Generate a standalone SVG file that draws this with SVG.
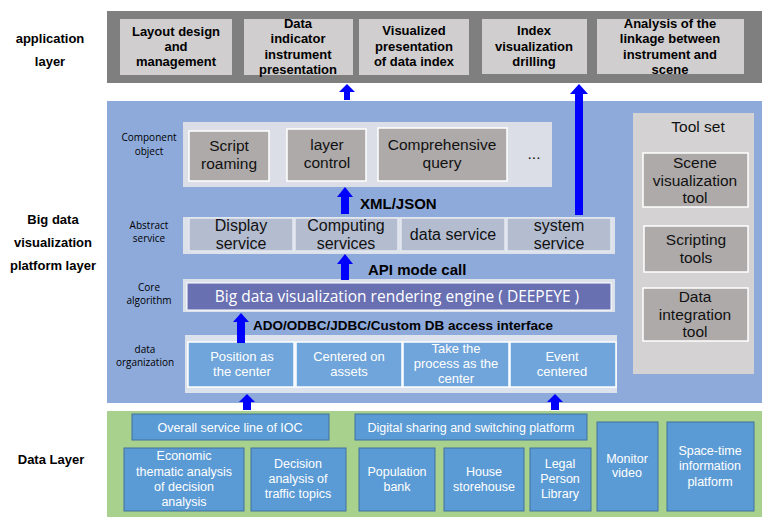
<svg xmlns="http://www.w3.org/2000/svg" width="773" height="525" viewBox="0 0 773 525">
<style>
.lbl{font-family:"Liberation Sans",Arial,sans-serif;font-weight:bold;font-size:13px;fill:#000;text-anchor:middle}
.top{font-family:"Liberation Sans",Arial,sans-serif;font-weight:bold;font-size:13px;fill:#000;text-anchor:middle}
.tbox{fill:#d0cece}
.sm{font-family:"Open Sans","Noto Sans",sans-serif;font-size:10px;fill:#000;text-anchor:middle}
.cb{fill:#aeaaaa;stroke:#fff;stroke-width:1.5}
.ct{font-family:"Liberation Sans",Arial,sans-serif;font-size:15.5px;fill:#111;text-anchor:middle}
.as{fill:#b4bdd0;stroke:#e4e8ef;stroke-width:1.5}
.at{font-family:"Liberation Sans",Arial,sans-serif;font-size:16px;fill:#111;text-anchor:middle}
.dc{fill:#6fa5da;stroke:#fff;stroke-width:1.5}
.dt{font-family:"Liberation Sans",Arial,sans-serif;font-size:13px;fill:#fff;text-anchor:middle}
.bl{font-family:"Liberation Sans",Arial,sans-serif;font-weight:bold;font-size:15px;fill:#000}
.gb{fill:#5b9bd5;stroke:#41719c;stroke-width:1}
.gt{font-family:"Liberation Sans",Arial,sans-serif;font-size:12.5px;fill:#fff;text-anchor:middle}
.tt{font-family:"Liberation Sans",Arial,sans-serif;font-size:15.5px;fill:#111;text-anchor:middle}
.arr{fill:#0000ff}
</style>

<!-- layer labels -->
<g id="layer-labels">
<text class="lbl" x="50" y="43">application</text>
<text class="lbl" x="50" y="66">layer</text>
<text class="lbl" x="53" y="224">Big data</text>
<text class="lbl" x="53" y="247">visualization</text>
<text class="lbl" x="53" y="270">platform layer</text>
<text class="lbl" x="51" y="464">Data Layer</text>
</g>

<!-- application layer -->
<g id="application-layer">
<rect x="107" y="11" width="655" height="72" fill="#7f7f7f"/>
</g>
<g id="app-layout">
<rect class="tbox" x="120" y="19" width="112" height="56"/>
<text class="top" x="176" y="36">Layout design</text>
<text class="top" x="176" y="51">and</text>
<text class="top" x="176" y="66">management</text>
</g>
<g id="app-data-indicator">
<rect class="tbox" x="244" y="19" width="109" height="56"/>
<text class="top" x="298" y="28">Data</text>
<text class="top" x="298" y="43">indicator</text>
<text class="top" x="298" y="59">instrument</text>
<text class="top" x="298" y="74">presentation</text>
</g>
<g id="app-visualized">
<rect class="tbox" x="359" y="19" width="110" height="56"/>
<text class="top" x="414" y="35">Visualized</text>
<text class="top" x="414" y="51">presentation</text>
<text class="top" x="414" y="66">of data index</text>
</g>
<g id="app-index">
<rect class="tbox" x="482" y="19" width="105" height="55"/>
<text class="top" x="534" y="35">Index</text>
<text class="top" x="534" y="51">visualization</text>
<text class="top" x="534" y="66">drilling</text>
</g>
<g id="app-analysis">
<rect class="tbox" x="597" y="19" width="147" height="55"/>
<text class="top" x="670" y="28">Analysis of the</text>
<text class="top" x="670" y="43">linkage between</text>
<text class="top" x="670" y="59">instrument and</text>
<text class="top" x="670" y="74">scene</text>
</g>

<!-- platform layer -->
<g id="platform-layer">
<rect x="107" y="101" width="655" height="302" fill="#8eaadb"/>
</g>

<g id="component-object">
<rect x="183" y="122" width="369" height="65" fill="#dbdee6"/>
<text class="sm" x="149" y="141">Component</text>
<text class="sm" x="149" y="155">object</text>
</g>
<g id="script-roaming">
<rect class="cb" x="189" y="131" width="80" height="50"/>
<text class="ct" x="229" y="151">Script</text>
<text class="ct" x="229" y="169">roaming</text>
</g>
<g id="layer-control">
<rect class="cb" x="287" y="129" width="79" height="52"/>
<text class="ct" x="327" y="150">layer</text>
<text class="ct" x="327" y="168">control</text>
</g>
<g id="comprehensive-query">
<rect class="cb" x="378" y="128" width="129" height="53"/>
<text class="ct" x="442" y="150">Comprehensive</text>
<text class="ct" x="442" y="168">query</text>
</g>
<g id="more">
<text class="ct" x="534" y="159">...</text>
</g>

<g id="abstract-service">
<rect x="183" y="217" width="432" height="37" fill="#dde2ea"/>
<text class="sm" x="149" y="229">Abstract</text>
<text class="sm" x="149" y="242">service</text>
</g>
<g id="display-service">
<rect class="as" x="189" y="218" width="104" height="33"/>
<text class="at" x="241" y="231">Display</text>
<text class="at" x="241" y="249">service</text>
</g>
<g id="computing-services">
<rect class="as" x="295" y="218" width="103" height="33"/>
<text class="at" x="346" y="231">Computing</text>
<text class="at" x="346" y="249">services</text>
</g>
<g id="data-service">
<rect class="as" x="401" y="218" width="104" height="33"/>
<text class="at" x="453" y="240">data service</text>
</g>
<g id="system-service">
<rect class="as" x="507" y="218" width="104" height="33"/>
<text class="at" x="559" y="231">system</text>
<text class="at" x="559" y="249">service</text>
</g>

<g id="core-algorithm">
<rect x="183" y="279" width="432" height="33" fill="#dde2ea"/>
<rect x="187" y="283" width="424" height="27" fill="#6870b2" stroke="#fff" stroke-width="1"/>
<text x="397" y="302" style="font-family:'Open Sans','Noto Sans',sans-serif;fill:#fff;font-size:15.5px;text-anchor:middle">Big data visualization rendering engine ( DEEPEYE )</text>
<text class="sm" x="149" y="291">Core</text>
<text class="sm" x="149" y="304">algorithm</text>
</g>

<g id="data-organization">
<rect x="185" y="335" width="432" height="58" fill="#dde3ec"/>
<text class="sm" x="145" y="353">data</text>
<text class="sm" x="145" y="366">organization</text>
</g>
<g id="position-center">
<rect class="dc" x="188" y="342" width="106" height="45"/>
<text class="dt" x="242" y="361">Position as</text>
<text class="dt" x="242" y="376">the center</text>
</g>
<g id="assets-center">
<rect class="dc" x="296" y="342" width="106" height="45"/>
<text class="dt" x="349" y="361">Centered on</text>
<text class="dt" x="349" y="376">assets</text>
</g>
<g id="process-center">
<rect class="dc" x="403" y="342" width="106" height="45"/>
<text class="dt" x="456" y="353">Take the</text>
<text class="dt" x="456" y="368">process as the</text>
<text class="dt" x="456" y="383">center</text>
</g>
<g id="event-center">
<rect class="dc" x="510" y="342" width="106" height="45"/>
<text class="dt" x="562" y="361">Event</text>
<text class="dt" x="562" y="376">centered</text>
</g>

<g id="tool-set">
<rect x="633" y="113" width="121" height="261" fill="#d4d2d2"/>
<text class="tt" x="698" y="132">Tool set</text>
</g>
<g id="scene-tool">
<rect class="cb" x="643" y="153" width="105" height="54"/>
<text class="tt" x="695" y="168">Scene</text>
<text class="tt" x="695" y="185.5">visualization</text>
<text class="tt" x="695" y="203">tool</text>
</g>
<g id="scripting-tools">
<rect class="cb" x="644" y="226" width="104" height="46"/>
<text class="tt" x="696" y="245">Scripting</text>
<text class="tt" x="696" y="262.5">tools</text>
</g>
<g id="data-integration-tool">
<rect class="cb" x="643" y="288" width="105" height="53"/>
<text class="tt" x="695" y="302">Data</text>
<text class="tt" x="695" y="319.5">integration</text>
<text class="tt" x="695" y="337">tool</text>
</g>

<!-- data layer -->
<g id="data-layer">
<rect x="107" y="411" width="655" height="106" fill="#a9d18e"/>
</g>
<g id="ioc">
<rect class="gb" x="132" y="414" width="197" height="26"/>
<text class="gt" x="230" y="432">Overall service line of IOC</text>
</g>
<g id="digital-sharing">
<rect class="gb" x="355" y="414" width="232" height="26"/>
<text class="gt" x="471" y="432">Digital sharing and switching platform</text>
</g>
<g id="economic">
<rect class="gb" x="124" y="448" width="120" height="63"/>
<text class="gt" x="184" y="460">Economic</text>
<text class="gt" x="184" y="476">thematic analysis</text>
<text class="gt" x="184" y="491">of decision</text>
<text class="gt" x="184" y="506">analysis</text>
</g>
<g id="decision">
<rect class="gb" x="251" y="448" width="95" height="63"/>
<text class="gt" x="298" y="468">Decision</text>
<text class="gt" x="298" y="483">analysis of</text>
<text class="gt" x="298" y="498">traffic topics</text>
</g>
<g id="population">
<rect class="gb" x="359" y="448" width="76" height="63"/>
<text class="gt" x="397" y="476">Population</text>
<text class="gt" x="397" y="491">bank</text>
</g>
<g id="house">
<rect class="gb" x="444" y="448" width="80" height="63"/>
<text class="gt" x="484" y="476">House</text>
<text class="gt" x="484" y="491">storehouse</text>
</g>
<g id="legal">
<rect class="gb" x="530" y="448" width="61" height="63"/>
<text class="gt" x="560" y="468">Legal</text>
<text class="gt" x="560" y="483">Person</text>
<text class="gt" x="560" y="498">Library</text>
</g>
<g id="monitor">
<rect class="gb" x="597" y="422" width="61" height="89"/>
<text class="gt" x="627" y="463">Monitor</text>
<text class="gt" x="627" y="477">video</text>
</g>
<g id="space-time">
<rect class="gb" x="667" y="422" width="87" height="89"/>
<text class="gt" x="710" y="455">Space-time</text>
<text class="gt" x="710" y="470">information</text>
<text class="gt" x="710" y="486">platform</text>
</g>

<!-- connectors -->
<g id="connectors">
<polygon class="arr" points="347,84 355,92 350,92 350,100 344,100 344,92 339,92"/>
<polygon class="arr" points="579,84 588,94 583,94 583,215 575,215 575,94 570,94"/>
<polygon class="arr" points="345,187 353,197 349,197 349,214 341,214 341,197 337,197"/>
<polygon class="arr" points="345,254 353,264 349,264 349,280 341,280 341,264 337,264"/>
<polygon class="arr" points="241,313 249,322 245,322 245,343 237,343 237,322 233,322"/>
<polygon class="arr" points="247,394 255,402 251,402 251,410 243,410 243,402 239,402"/>
<polygon class="arr" points="555,394 563,402 559,402 559,410 551,410 551,402 547,402"/>
<text class="bl" x="360" y="209">XML/JSON</text>
<text class="bl" x="368" y="275">API mode call</text>
<text class="bl" x="253" y="330" style="font-size:13.5px">ADO/ODBC/JDBC/Custom DB access interface</text>
</g>
</svg>
